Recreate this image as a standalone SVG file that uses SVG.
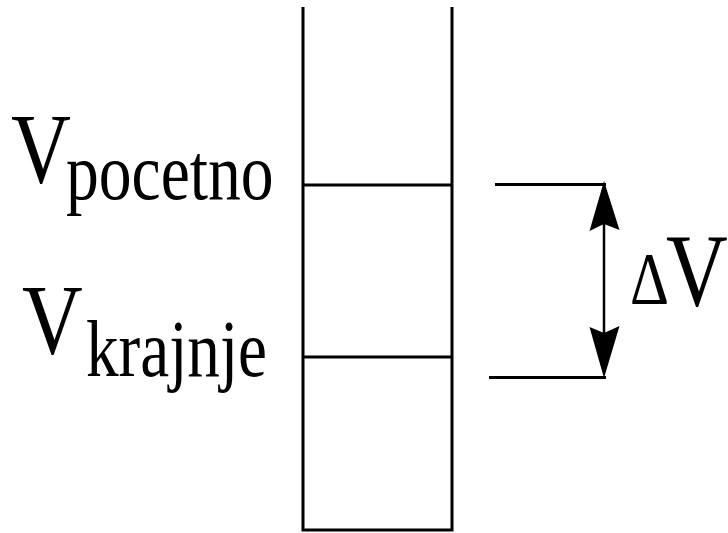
<svg xmlns="http://www.w3.org/2000/svg" width="728" height="533" viewBox="0 0 728 533">
<style>
.ln{stroke:#000;stroke-width:3;fill:none}
.sh{stroke:#000;stroke-width:2.5;fill:none}
.hd{fill:#000;stroke:none}
text{font-family:"Liberation Serif","Times New Roman",serif;fill:#000}
</style>
<rect width="728" height="533" fill="#fff"/>
<g id="column">
<path class="ln" d="M303,7 V531 M452,7 V531 M301.5,530 H453.5 M303,185 H452 M303,357 H452"/>
</g>
<g id="label-pocetno">
<text transform="translate(11,182) scale(0.83,1)" font-size="100">V</text>
<text transform="translate(66,199) scale(0.82,1)" font-size="80">pocetno</text>
</g>
<g id="label-krajnje">
<text transform="translate(22,353) scale(0.85,1)" font-size="99">V</text>
<text transform="translate(86,376) scale(0.815,1)" font-size="80">krajnje</text>
</g>
<g id="connectors">
<path class="ln" d="M495,184.5 H606 M489,377.5 H606"/>
<path class="sh" d="M604,224 V333"/>
<path class="hd" d="M604,181 L619.5,230 L604,224 L589.5,231 Z"/>
<path class="hd" d="M604,378 L619.5,326 L604,333 L589.5,327 Z"/>
</g>
<g id="label-deltaV">
<text transform="translate(630,304) scale(0.83,1)" font-size="73">Δ</text>
<text transform="translate(666,305) scale(0.83,1)" font-size="103">V</text>
</g>
</svg>
